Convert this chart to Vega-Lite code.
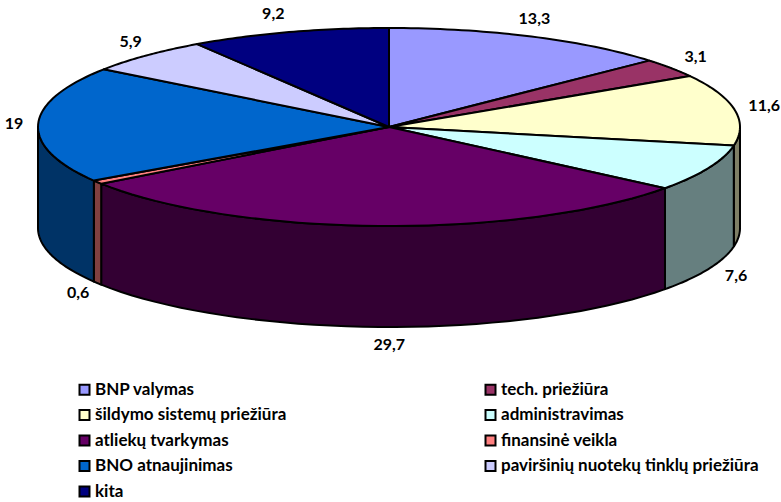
{"$schema":"https://vega.github.io/schema/vega-lite/v6.json","width":781,"height":502,"padding":0,"autosize":{"type":"none"},"background":"white","config":{"view":{"stroke":null}},"data":{"values":[{"name":"BNP valymas","value":13.3,"label":"13,3"},{"name":"tech. priežiūra","value":3.1,"label":"3,1"},{"name":"šildymo sistemų priežiūra","value":11.6,"label":"11,6"},{"name":"administravimas","value":7.6,"label":"7,6"},{"name":"atliekų tvarkymas","value":29.7,"label":"29,7"},{"name":"finansinė veikla","value":0.6,"label":"0,6"},{"name":"BNO atnaujinimas","value":19,"label":"19"},{"name":"paviršinių nuotekų tinklų priežiūra","value":5.9,"label":"5,9"},{"name":"kita","value":9.2,"label":"9,2"}]},"transform":[{"window":[{"op":"sum","field":"value","as":"cum"}],"frame":[null,0]},{"joinaggregate":[{"op":"sum","field":"value","as":"total"}]},{"calculate":"(datum.cum-datum.value)/datum.total*2*PI","as":"a0"},{"calculate":"datum.cum/datum.total*2*PI","as":"a1"}],"layer":[{"transform":[{"calculate":"max(datum.a0,PI/2)","as":"w0"},{"calculate":"min(datum.a1,3*PI/2)","as":"w1"},{"filter":"datum.w1>datum.w0"},{"calculate":"[0,1,2,3,4,5,6,7,8,9,10,11,12,13,14,15,16,17,18,19,20,21,22,23,24,25,26,27,28,29,30,31,32,33,34,35,36,37,38,39,40,41,42,43,44,45,46,47,48,49,50,51,52,53,54,55,56,57,58,59,60,61,62,63,64,65,66,67,68,69,70,71,72,73,74,75,76,77,78,79,80,81,82]","as":"s"},{"flatten":["s"]},{"calculate":"datum.s<=40?datum.s/40:datum.s<=81?(81-datum.s)/40:0","as":"t"},{"calculate":"datum.w0+datum.t*(datum.w1-datum.w0)","as":"th"},{"calculate":"351*sin(datum.th)","as":"px"},{"calculate":"99*cos(datum.th)-((datum.s>40&&datum.s<=81)?101:0)","as":"py"}],"mark":{"type":"line","stroke":"black","strokeWidth":2,"strokeJoin":"round","interpolate":"linear"},"encoding":{"x":{"field":"px","type":"quantitative","scale":{"domain":[-389,392],"range":[0,781]},"axis":null},"y":{"field":"py","type":"quantitative","scale":{"domain":[-375,127],"range":[502,0]},"axis":null},"order":{"field":"s","type":"quantitative"},"fill":{"field":"name","type":"nominal","sort":null,"legend":null,"scale":{"domain":["BNP valymas","šildymo sistemų priežiūra","atliekų tvarkymas","BNO atnaujinimas","kita","tech. priežiūra","administravimas","finansinė veikla","paviršinių nuotekų tinklų priežiūra"],"range":["#4c4c7f","#7f7f66","#330033","#003366","#000040","#4c1933","#667f7f","#7f4040","#666680"]}}}},{"transform":[{"calculate":"[0,1,2,3,4,5,6,7,8,9,10,11,12,13,14,15,16,17,18,19,20,21,22,23,24,25,26,27,28,29,30,31,32,33,34,35,36,37,38,39,40,41,42]","as":"s"},{"flatten":["s"]},{"calculate":"(datum.s-1)/40","as":"t"},{"calculate":"datum.a0+datum.t*(datum.a1-datum.a0)","as":"th"},{"calculate":"(datum.s==0||datum.s==42)?0:351*sin(datum.th)","as":"px"},{"calculate":"(datum.s==0||datum.s==42)?0:99*cos(datum.th)","as":"py"}],"mark":{"type":"line","stroke":"black","strokeWidth":2,"strokeJoin":"round","interpolate":"linear"},"encoding":{"x":{"field":"px","type":"quantitative","scale":{"domain":[-389,392],"range":[0,781]},"axis":null},"y":{"field":"py","type":"quantitative","scale":{"domain":[-375,127],"range":[502,0]},"axis":null},"order":{"field":"s","type":"quantitative"},"fill":{"field":"name","type":"nominal","sort":null,"scale":{"domain":["BNP valymas","šildymo sistemų priežiūra","atliekų tvarkymas","BNO atnaujinimas","kita","tech. priežiūra","administravimas","finansinė veikla","paviršinių nuotekų tinklų priežiūra"],"range":["#9999ff","#ffffcc","#660066","#0066cc","#000080","#993366","#ccffff","#ff8080","#ccccff"]},"legend":{"title":null,"orient":"none","legendX":76,"legendY":381,"columns":2,"columnPadding":194,"rowPadding":6.5,"symbolType":"square","symbolSize":100,"symbolStrokeColor":"black","symbolStrokeWidth":2,"symbolOpacity":1,"labelFont":"Lato","labelFontWeight":"bold","labelFontSize":17,"labelColor":"black","labelLimit":400,"labelOffset":2}}}},{"transform":[{"calculate":"(datum.a0+datum.a1)/2","as":"m"},{"calculate":"378*sin(datum.m)+(cos(datum.m)>0.9?-8:cos(datum.m)<-0.9?11:3)","as":"px"},{"calculate":"118*cos(datum.m)-(cos(datum.m)<0?100:0)","as":"py"}],"mark":{"type":"text","font":"Lato","fontWeight":"bold","fontSize":16,"color":"black","align":"center","baseline":"middle"},"encoding":{"x":{"field":"px","type":"quantitative","scale":{"domain":[-389,392],"range":[0,781]},"axis":null},"y":{"field":"py","type":"quantitative","scale":{"domain":[-375,127],"range":[502,0]},"axis":null},"text":{"field":"label","type":"nominal"}}}],"resolve":{"scale":{"fill":"independent"}}}
